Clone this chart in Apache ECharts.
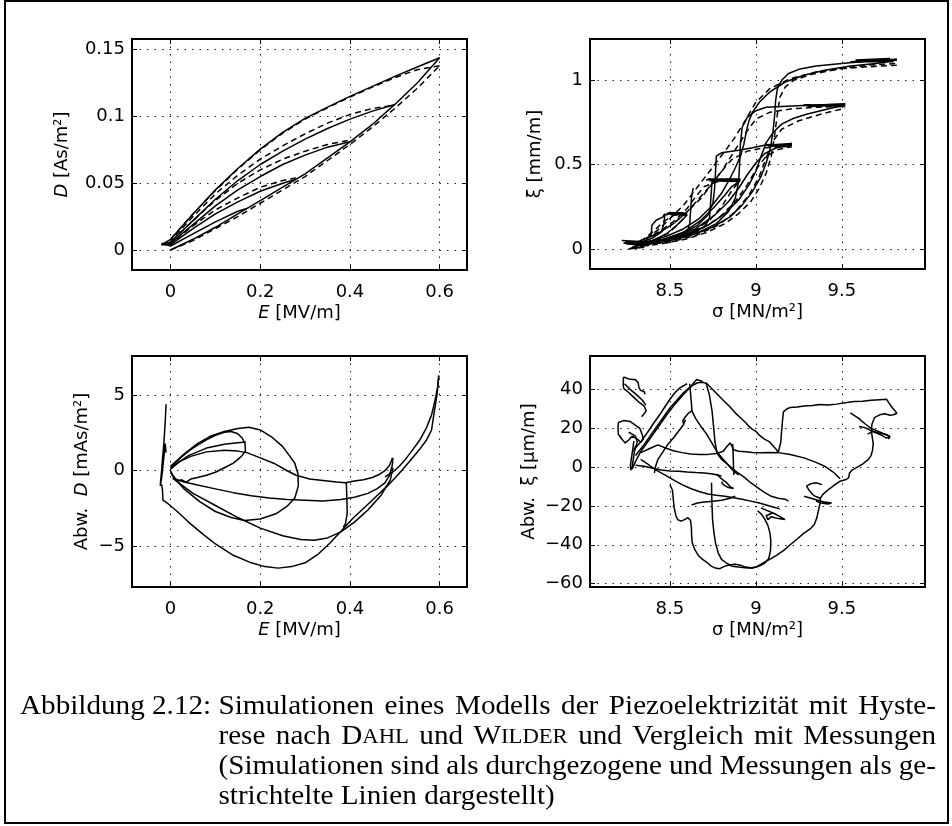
<!DOCTYPE html>
<html>
<head>
<meta charset="utf-8">
<script src="https://cdn.jsdelivr.net/npm/echarts@6/dist/echarts.min.js"></script>
<style>html,body{margin:0;padding:0;background:#fff}#c{width:952px;height:826px}</style>
</head>
<body>
<div id="c"></div>
<script>
// ---------- tick values ----------
const xTicksE = [0, 0.2, 0.4, 0.6];
const yTicksD = [0, 0.05, 0.1, 0.15];
const xTicksS = [8.5, 9, 9.5];
const yTicksXi = [0, 0.5, 1];
const yTicksDevD = [-5, 0, 5];
const yTicksDevXi = [-60, -40, -20, 0, 20, 40];

// ---------- Plot 1: D vs E (solid = simulation, dashed = measurement) ----------
const p1s_up = [[0,0],[0.05,0.008],[0.1,0.017],[0.15,0.027],[0.2,0.037],[0.25,0.047],[0.3,0.057],[0.35,0.069],[0.4,0.081],[0.45,0.094],[0.5,0.109],[0.55,0.125],[0.6,0.144]];
const p1s_d06 = [[0.6,0.144],[0.55,0.137],[0.5,0.13],[0.45,0.1225],[0.4,0.115],[0.35,0.107],[0.3,0.0985],[0.25,0.088],[0.2,0.0755],[0.15,0.061],[0.1,0.045],[0.05,0.027],[0,0.008],[-0.02,0.004]];
const p1s_d05 = [[0.5,0.109],[0.45,0.104],[0.4,0.098],[0.35,0.091],[0.3,0.083],[0.25,0.074],[0.2,0.064],[0.15,0.052],[0.1,0.038],[0.05,0.022],[0,0.006],[-0.02,0.004]];
const p1s_d04 = [[0.4,0.081],[0.35,0.077],[0.3,0.071],[0.25,0.064],[0.2,0.055],[0.15,0.045],[0.1,0.033],[0.05,0.019],[0,0.005],[-0.02,0.004]];
const p1s_d03 = [[0.28,0.053],[0.25,0.05],[0.2,0.044],[0.15,0.036],[0.1,0.027],[0.05,0.016],[0,0.004],[-0.02,0.004]];
const p1s_d02 = [[0.17,0.031],[0.15,0.029],[0.1,0.021],[0.05,0.012],[0,0.003],[-0.02,0.005]];
const p1m_up = [[0,0],[0.05,0.007],[0.1,0.016],[0.15,0.025],[0.2,0.035],[0.25,0.045],[0.3,0.055],[0.35,0.067],[0.4,0.079],[0.45,0.092],[0.5,0.106],[0.55,0.121],[0.6,0.138]];
const p1m_d06 = [[0.6,0.138],[0.55,0.135],[0.5,0.129],[0.45,0.122],[0.4,0.1145],[0.35,0.1065],[0.3,0.098],[0.25,0.0875],[0.2,0.075],[0.15,0.0605],[0.1,0.0445],[0.05,0.027],[0,0.008]];
const p1m_d05 = [[0.49,0.108],[0.45,0.106],[0.4,0.1015],[0.35,0.095],[0.3,0.087],[0.25,0.078],[0.2,0.068],[0.15,0.056],[0.1,0.042],[0.05,0.025],[0,0.007]];
const p1m_d04 = [[0.395,0.082],[0.35,0.079],[0.3,0.074],[0.25,0.068],[0.2,0.06],[0.15,0.05],[0.1,0.037],[0.05,0.022],[0,0.006]];
const p1m_d03 = [[0.28,0.054],[0.25,0.052],[0.2,0.047],[0.15,0.039],[0.1,0.03],[0.05,0.018],[0,0.005]];

// ---------- Plot 2: xi vs sigma ----------
const p2s_asc1 = [[8.25,0.03],[8.35,0.03],[8.45,0.04],[8.55,0.06],[8.65,0.09],[8.75,0.13],[8.85,0.19],[8.92,0.26],[8.98,0.34],[9.03,0.43],[9.06,0.51],[9.085,0.6],[9.1,0.7],[9.11,0.8],[9.115,0.88],[9.125,0.95],[9.15,1.0],[9.19,1.04],[9.25,1.065],[9.35,1.085],[9.5,1.1],[9.65,1.115],[9.82,1.12]];
const p2s_top1 = [[9.55,1.11],[9.82,1.125],[9.6,1.115],[9.8,1.11],[9.58,1.12],[9.78,1.13],[9.56,1.105],[9.8,1.12]];
const p2s_desc1 = [[9.82,1.12],[9.7,1.1],[9.55,1.085],[9.4,1.06],[9.28,1.03],[9.17,0.99],[9.08,0.93],[9.02,0.87],[8.98,0.81],[8.96,0.76],[8.945,0.7],[8.93,0.62],[8.91,0.55],[8.88,0.48],[8.84,0.4],[8.8,0.33],[8.74,0.25],[8.67,0.18],[8.58,0.12],[8.48,0.075],[8.38,0.045],[8.28,0.03]];
const p2s_asc2 = [[8.28,0.03],[8.45,0.05],[8.6,0.09],[8.72,0.14],[8.82,0.21],[8.9,0.29],[8.96,0.38],[9.0,0.46],[9.03,0.55],[9.06,0.63],[9.1,0.69],[9.15,0.74],[9.22,0.775],[9.3,0.8],[9.4,0.825],[9.52,0.855]];
const p2s_top2 = [[9.27,0.85],[9.52,0.86],[9.3,0.845],[9.5,0.85],[9.28,0.855],[9.52,0.845]];
const p2s_desc2 = [[9.52,0.86],[9.4,0.855],[9.27,0.85],[9.15,0.845],[9.06,0.84],[9.0,0.82],[8.95,0.78],[8.92,0.72],[8.91,0.62],[8.905,0.5],[8.9,0.4],[8.88,0.3],[8.84,0.22],[8.77,0.15],[8.67,0.1],[8.55,0.065],[8.42,0.045],[8.3,0.03]];
const p2s_asc3 = [[8.3,0.03],[8.5,0.06],[8.65,0.12],[8.76,0.2],[8.84,0.28],[8.9,0.36],[8.95,0.44],[9.0,0.51],[9.05,0.565],[9.12,0.6],[9.21,0.615]];
const p2s_top3 = [[9.05,0.615],[9.21,0.625],[9.07,0.61],[9.2,0.615],[9.05,0.62],[9.21,0.605]];
const p2s_desc3 = [[9.21,0.62],[9.05,0.615],[8.98,0.6],[8.9,0.585],[8.8,0.57],[8.77,0.55],[8.765,0.45],[8.76,0.36],[8.75,0.27],[8.72,0.2],[8.66,0.14],[8.57,0.09],[8.45,0.055],[8.3,0.03]];
const p2s_asc4 = [[8.3,0.03],[8.45,0.05],[8.58,0.1],[8.68,0.17],[8.76,0.25],[8.82,0.32],[8.86,0.37],[8.91,0.405]];
const p2s_top4 = [[8.71,0.41],[8.91,0.41],[8.73,0.405],[8.9,0.4],[8.72,0.415],[8.91,0.415]];
const p2s_desc4 = [[8.91,0.41],[8.8,0.41],[8.745,0.4],[8.74,0.33],[8.735,0.25],[8.73,0.18],[8.7,0.13],[8.62,0.09],[8.5,0.06],[8.38,0.04],[8.3,0.03]];
const p2s_asc5 = [[8.3,0.03],[8.4,0.05],[8.48,0.09],[8.54,0.14],[8.58,0.18],[8.6,0.205]];
const p2s_top5 = [[8.48,0.21],[8.6,0.21],[8.5,0.205],[8.6,0.2],[8.49,0.215],[8.58,0.215]];
const p2s_desc5 = [[8.6,0.21],[8.5,0.21],[8.47,0.2],[8.465,0.15],[8.45,0.1],[8.4,0.065],[8.33,0.04]];
const p2s_box = [[8.39,0.07],[8.395,0.14],[8.42,0.17],[8.46,0.19],[8.47,0.21]];
const p2s_vert = [[8.635,0.36],[8.625,0.3],[8.62,0.22],[8.615,0.15],[8.6,0.1],[8.55,0.07]];
const p2s_base = [[8.22,0.05],[8.4,0.04],[8.25,0.03],[8.38,0.02],[8.24,0.045],[8.35,0.01],[8.26,0.0],[8.32,0.02],[8.23,0.035],[8.42,0.035]];
const p2m_asc1 = [[8.28,0.01],[8.45,0.03],[8.6,0.06],[8.72,0.1],[8.82,0.15],[8.9,0.21],[8.97,0.28],[9.02,0.36],[9.06,0.45],[9.09,0.55],[9.11,0.68],[9.125,0.8],[9.14,0.9],[9.17,0.96],[9.22,1.0],[9.32,1.035],[9.5,1.07],[9.65,1.09],[9.82,1.1]];
const p2m_desc1 = [[9.82,1.09],[9.65,1.08],[9.5,1.07],[9.35,1.05],[9.2,1.01],[9.08,0.95],[9.0,0.87],[8.96,0.8],[8.92,0.73],[8.87,0.65],[8.82,0.58],[8.76,0.5],[8.7,0.42],[8.64,0.34],[8.58,0.26],[8.51,0.19],[8.44,0.12],[8.36,0.06],[8.28,0.03]];
const p2m_asc2 = [[8.3,0.02],[8.5,0.04],[8.65,0.08],[8.78,0.14],[8.88,0.22],[8.96,0.32],[9.02,0.43],[9.06,0.54],[9.1,0.64],[9.15,0.71],[9.25,0.76],[9.38,0.8],[9.52,0.835]];
const p2m_desc2 = [[9.5,0.845],[9.35,0.84],[9.2,0.83],[9.08,0.81],[9.0,0.77],[8.95,0.7],[8.9,0.62],[8.85,0.54],[8.8,0.46],[8.74,0.38],[8.67,0.3],[8.6,0.22],[8.52,0.15],[8.43,0.09],[8.33,0.05]];
const p2m_asc3 = [[8.3,0.02],[8.5,0.05],[8.65,0.1],[8.78,0.18],[8.88,0.28],[8.95,0.38],[9.0,0.47],[9.06,0.55],[9.13,0.59],[9.2,0.605]];
const p2m_desc3 = [[9.2,0.61],[9.05,0.6],[8.95,0.58],[8.86,0.53],[8.8,0.46],[8.74,0.38],[8.68,0.3],[8.6,0.22],[8.52,0.15],[8.43,0.09],[8.33,0.05]];
const p2m_asc4 = [[8.3,0.02],[8.5,0.05],[8.63,0.1],[8.73,0.17],[8.8,0.25],[8.85,0.33],[8.9,0.4]];
const p2m_desc4 = [[8.9,0.405],[8.78,0.4],[8.7,0.37],[8.65,0.31],[8.6,0.24],[8.53,0.17],[8.45,0.11],[8.36,0.06]];
const p2m_asc5 = [[8.3,0.02],[8.42,0.05],[8.5,0.1],[8.56,0.16],[8.6,0.2]];
const p2m_desc5 = [[8.6,0.205],[8.52,0.2],[8.46,0.16],[8.41,0.11],[8.35,0.06]];

// ---------- Plot 3: deviation of D vs E ----------
const p3_spike = [[-0.010,4.4],[-0.012,3.2],[-0.015,1.8],[-0.018,0.8],[-0.02,0.0],[-0.022,-0.6],[-0.023,-1.0],[-0.02,-0.5],[-0.016,0.6],[-0.012,1.8],[-0.01,1.2]];
const p3_loopA = [[0.0,0.2],[0.02,0.8],[0.04,1.3],[0.06,1.7],[0.08,2.05],[0.1,2.35],[0.12,2.55],[0.135,2.6],[0.15,2.45],[0.16,2.15],[0.166,1.8],[0.167,1.3],[0.158,0.95],[0.14,0.5],[0.12,0.2],[0.1,-0.1],[0.08,-0.3],[0.06,-0.45],[0.045,-0.55],[0.035,-0.75],[0.025,-0.6],[0.015,-0.7],[0.005,-0.3],[0.0,0.0]];
const p3_loopB = [[0.0,0.3],[0.03,1.1],[0.06,1.8],[0.09,2.3],[0.12,2.6],[0.15,2.8],[0.175,2.88],[0.2,2.7],[0.225,2.25],[0.25,1.6],[0.265,1.0],[0.277,0.5],[0.284,-0.2],[0.285,-1.0],[0.277,-1.8],[0.26,-2.35],[0.235,-2.85],[0.2,-3.2],[0.165,-3.3],[0.135,-3.1],[0.1,-2.7],[0.065,-2.05],[0.03,-1.2],[0.008,-0.5],[0.0,-0.1]];
const p3_mid = [[0.0,0.1],[0.02,0.6],[0.045,0.95],[0.08,1.25],[0.12,1.35],[0.15,1.3],[0.17,1.2],[0.2,0.85],[0.23,0.5],[0.26,0.0],[0.28,-0.3],[0.31,-0.55],[0.34,-0.65],[0.37,-0.75],[0.39,-0.8],[0.41,-0.68],[0.43,-0.6],[0.45,-0.45],[0.465,-0.25],[0.478,0.0],[0.488,0.35],[0.495,0.85]];
const p3_mid2 = [[0.0,0.2],[0.04,1.0],[0.08,1.5],[0.12,1.75],[0.15,1.85],[0.168,1.9]];
const p3_low = [[0.496,0.85],[0.494,0.3],[0.488,-0.3],[0.478,-0.8],[0.46,-1.2],[0.44,-1.5],[0.41,-1.75],[0.38,-1.9],[0.34,-2.0],[0.3,-1.95],[0.26,-1.9],[0.22,-1.8],[0.18,-1.65],[0.14,-1.45],[0.1,-1.2],[0.06,-0.95],[0.03,-0.75],[0.005,-0.5]];
const p3_v04 = [[0.392,-0.8],[0.393,-1.8],[0.394,-2.8],[0.39,-3.5],[0.385,-3.75]];
const p3_arc05 = [[0.005,-0.5],[0.05,-1.5],[0.1,-2.3],[0.15,-3.1],[0.2,-3.8],[0.25,-4.3],[0.29,-4.55],[0.32,-4.6],[0.35,-4.45],[0.38,-4.05],[0.41,-3.4],[0.44,-2.6],[0.47,-1.6],[0.49,-0.6],[0.496,0.2]];
const p3_asc06 = [[0.478,-0.4],[0.495,-0.1],[0.51,0.3],[0.525,0.8],[0.54,1.4],[0.555,2.0],[0.57,2.8],[0.582,3.7],[0.59,4.7],[0.596,5.6],[0.598,6.3]];
const p3_desc06 = [[0.598,6.3],[0.594,5.0],[0.588,3.9],[0.582,2.7],[0.57,2.0],[0.555,1.4],[0.535,0.7],[0.515,0.0],[0.5,-0.5],[0.48,-1.1],[0.455,-1.8],[0.43,-2.5],[0.405,-3.2],[0.38,-4.0],[0.355,-4.8],[0.33,-5.5],[0.3,-6.1],[0.27,-6.35],[0.24,-6.45],[0.21,-6.35],[0.18,-6.1],[0.14,-5.6],[0.1,-4.85],[0.07,-4.15],[0.04,-3.4],[0.015,-2.7],[-0.005,-2.2],[-0.017,-1.95],[-0.018,-1.3],[-0.02,-0.9]];

// ---------- Plot 4: deviation of xi vs sigma ----------
const p4_a1 = [[8.23,46.5],[8.26,45.5],[8.3,45.0],[8.315,43.5],[8.32,41],[8.33,39.5],[8.35,39.0],[8.36,38.3],[8.355,37.6]];
const p4_a2 = [[8.23,46.5],[8.228,42],[8.232,40.5],[8.26,38.5],[8.29,36],[8.32,33.5],[8.35,31.5],[8.362,29],[8.35,27.5],[8.335,26]];
const p4_a3 = [[8.235,43],[8.27,40],[8.31,37],[8.34,34.5],[8.36,32]];
const p4_b1 = [[8.2,23],[8.23,24],[8.27,23.5],[8.3,21.5],[8.325,20],[8.34,16.5],[8.345,14.5],[8.33,12.8],[8.31,14.5],[8.28,16],[8.26,14],[8.24,12.5],[8.22,14.5],[8.2,17],[8.198,20],[8.2,23]];
const p4_b2 = [[8.29,13.5],[8.285,10],[8.28,7],[8.275,4],[8.27,1],[8.272,-1.5],[8.28,0],[8.285,3],[8.29,6],[8.295,9],[8.3,11]];
const p4_b3 = [[8.26,18],[8.28,17],[8.3,16],[8.31,13],[8.3,10],[8.29,8]];
const p4_c1 = [[8.28,-1],[8.3,3],[8.33,8],[8.37,13],[8.41,18],[8.45,23],[8.49,28],[8.53,32.5],[8.57,36.5],[8.6,39.5],[8.63,42],[8.66,43.5],[8.69,43.8],[8.71,43.2]];
const p4_c2 = [[8.3,6],[8.34,10.5],[8.38,15.5],[8.42,20.5],[8.46,25.5],[8.5,30.5],[8.54,34.5],[8.58,38.5],[8.62,41.5],[8.655,45.2],[8.69,44.2]];
const p4_c3 = [[8.29,9],[8.33,13],[8.37,18],[8.4,22],[8.44,27],[8.47,31],[8.5,35],[8.53,38.5],[8.56,41],[8.6,43]];
const p4_d1 = [[8.71,43.5],[8.73,37],[8.745,29],[8.755,20],[8.762,13],[8.775,7],[8.8,4],[8.83,2],[8.86,-0.5],[8.89,-2.5],[8.93,-5],[8.97,-8],[9.01,-10.5],[9.05,-13],[9.09,-15],[9.13,-16],[9.17,-16.5],[9.19,-17.5]];
const p4_d2 = [[8.71,43.5],[8.76,39],[8.81,34.5],[8.85,31],[8.88,28],[8.91,25.5],[8.94,23],[8.96,21],[8.98,19.5],[9.0,18.5],[9.02,16.5],[9.05,14.5],[9.08,13],[9.1,11],[9.12,9],[9.13,7.5]];
const p4_d3 = [[8.615,43],[8.62,38],[8.625,33],[8.628,29],[8.61,28],[8.59,26],[8.575,24],[8.58,22],[8.59,24.5]];
const p4_d4 = [[8.628,29],[8.65,25],[8.68,21],[8.71,17.5],[8.74,13],[8.77,8.5],[8.8,5],[8.84,1],[8.87,-2],[8.9,-4]];
const p4_e1 = [[8.33,7.5],[8.38,9.5],[8.43,11.5],[8.47,10],[8.52,8.5],[8.57,7.5],[8.62,6.8],[8.67,6.5],[8.72,6.6],[8.77,7],[8.81,8.2],[8.83,10.5],[8.85,12.5],[8.86,11],[8.87,9],[8.9,8.2],[8.94,8],[8.98,7.6],[9.03,7.4],[9.08,7.6],[9.13,7.4]];
const p4_e2 = [[8.865,12],[8.868,6],[8.87,0],[8.872,-4]];
const p4_e3 = [[9.13,7.5],[9.2,6.5],[9.28,4.8],[9.35,2.5],[9.4,0.5],[9.45,-2.5],[9.49,-6]];
const p4_f1 = [[9.13,7.5],[9.145,13],[9.15,19],[9.155,24],[9.16,28.5],[9.18,30],[9.2,30.8],[9.24,31],[9.28,31.5],[9.33,31.8],[9.37,32.3],[9.42,32],[9.47,32.5],[9.52,33.2],[9.57,33.8],[9.62,34],[9.67,34.5],[9.72,34.8],[9.76,35],[9.775,33],[9.79,31],[9.81,29],[9.82,27.8],[9.8,27],[9.78,26.8],[9.75,27.5],[9.72,27],[9.69,25.5],[9.675,22],[9.672,18.5],[9.678,15],[9.683,12],[9.678,8.5],[9.67,6],[9.655,4],[9.64,3],[9.62,1.5],[9.6,0.5],[9.58,-0.5],[9.56,-1.5],[9.545,-3],[9.54,-5.5],[9.52,-6.5],[9.49,-7.2],[9.46,-9],[9.43,-11],[9.41,-12.5],[9.39,-14],[9.375,-16],[9.36,-15.5],[9.34,-14.8],[9.31,-12],[9.295,-9.8],[9.32,-8.5],[9.35,-8],[9.385,-9]];
const p4_f2 = [[9.55,28],[9.6,25],[9.64,22],[9.67,20],[9.71,18.5],[9.75,17],[9.78,16],[9.76,15],[9.73,16.5],[9.69,18],[9.63,20.5],[9.6,21]];
const p4_f3 = [[9.65,17],[9.68,18.5],[9.72,17.5],[9.76,16.8],[9.78,15.5],[9.77,14.5]];
const p4_g1 = [[8.5,-9],[8.515,-12],[8.52,-17],[8.525,-21],[8.535,-25],[8.545,-27],[8.565,-27.8],[8.585,-27],[8.605,-26],[8.62,-27.5],[8.625,-31],[8.626,-35],[8.63,-39],[8.645,-42.5],[8.665,-45.5],[8.69,-47.5],[8.715,-49],[8.74,-51],[8.765,-52],[8.79,-52.3],[8.82,-51],[8.85,-50.3],[8.88,-50],[8.91,-50.5],[8.94,-51.5],[8.98,-52],[9.02,-51],[9.05,-49.5],[9.075,-47],[9.085,-43],[9.087,-38],[9.082,-34],[9.07,-30],[9.05,-26.5],[9.03,-24],[9.01,-22.5]];
const p4_g2 = [[8.742,-8],[8.743,-14],[8.745,-20],[8.748,-27],[8.755,-33],[8.765,-39],[8.78,-44],[8.8,-47.5],[8.83,-49.5],[8.86,-51],[8.9,-51.5],[8.95,-52],[8.98,-52]];
const p4_g3 = [[8.33,4],[8.38,1],[8.42,-1.5],[8.47,-4],[8.52,-6.5],[8.57,-9],[8.62,-11],[8.67,-12.5],[8.72,-13.8],[8.77,-14.5],[8.82,-15],[8.87,-15.8],[8.92,-16.5],[8.97,-17.5],[9.02,-18.5],[9.06,-19.5],[9.1,-20.5],[9.14,-21.5]];
const p4_g4 = [[8.626,-19.5],[8.66,-18.5],[8.7,-18],[8.75,-17.5],[8.8,-17],[8.85,-16],[8.88,-15]];
const p4_g5 = [[9.375,-16],[9.372,-19],[9.365,-22],[9.355,-26],[9.34,-29.5],[9.32,-31.5],[9.28,-34],[9.24,-37],[9.2,-40],[9.16,-43],[9.12,-45.5],[9.08,-47.5],[9.04,-49.5],[9.0,-51.5],[8.97,-52]];
const p4_g6 = [[9.03,-21],[9.07,-22.5],[9.11,-24],[9.15,-26],[9.17,-27],[9.13,-26.5],[9.09,-25.5],[9.07,-27],[9.06,-25],[9.1,-23.5]];
const p4_g7 = [[9.28,-15],[9.32,-16],[9.36,-17],[9.4,-18],[9.44,-18.5],[9.45,-19.5],[9.42,-19],[9.38,-18.5],[9.35,-17.5]];
const p4_g8 = [[8.77,-3.5],[8.8,-6],[8.83,-8],[8.85,-10],[8.87,-11],[8.84,-10.5],[8.81,-9],[8.8,-7.5]];
const p4_h1 = [[8.3,1],[8.35,0.5],[8.4,-0.5],[8.45,-1.5],[8.5,-2],[8.55,-2.1],[8.6,-2.5],[8.65,-2.8],[8.7,-3],[8.75,-3.5],[8.8,-4.5]];
const p4_i1 = [[8.58,22],[8.55,18.5],[8.52,15],[8.49,12],[8.46,8],[8.43,4],[8.415,0],[8.41,-3]];

// ---------- series grouping ----------
const plotSolid = [
  [p1s_up, p1s_d06, p1s_d05, p1s_d04, p1s_d03, p1s_d02],
  [p2s_asc1, p2s_top1, p2s_desc1, p2s_asc2, p2s_top2, p2s_desc2, p2s_asc3, p2s_top3, p2s_desc3, p2s_asc4, p2s_top4, p2s_desc4, p2s_asc5, p2s_top5, p2s_desc5, p2s_box, p2s_vert, p2s_base],
  [p3_spike, p3_loopA, p3_loopB, p3_mid, p3_mid2, p3_low, p3_v04, p3_arc05, p3_asc06, p3_desc06],
  [p4_a1, p4_a2, p4_a3, p4_b1, p4_b2, p4_b3, p4_c1, p4_c2, p4_c3, p4_d1, p4_d2, p4_d3, p4_d4, p4_e1, p4_e2, p4_e3, p4_f1, p4_f2, p4_f3, p4_g1, p4_g2, p4_g3, p4_g4, p4_g5, p4_g6, p4_g7, p4_g8, p4_h1, p4_i1]
];
const plotDashed = [
  [p1m_up, p1m_d06, p1m_d05, p1m_d04, p1m_d03],
  [p2m_asc1, p2m_desc1, p2m_asc2, p2m_desc2, p2m_asc3, p2m_desc3, p2m_asc4, p2m_desc4, p2m_asc5, p2m_desc5],
  [], []
];

// ---------- layout ----------
const FONT = 'DejaVu Sans';
const FS = 18;
const gridsPos = [
  {left:132, top:39, width:335, height:231},
  {left:590, top:39, width:335, height:230},
  {left:132, top:356, width:335, height:231},
  {left:590, top:356, width:335, height:231}
];
const ranges = [
  {x:[-0.086,0.661], y:[-0.015,0.158], xt:xTicksE, yt:yTicksD},
  {x:[8.035,9.984], y:[-0.119,1.245], xt:xTicksS, yt:yTicksXi},
  {x:[-0.086,0.661], y:[-7.7,7.6], xt:xTicksE, yt:yTicksDevD},
  {x:[8.035,9.984], y:[-61.75,57.3], xt:xTicksS, yt:yTicksDevXi}
];
const names = [
  {x:'{i|E} [MV/m]', y:'{i|D} [As/m²]', xg:34, yg:61},
  {x:'σ [MN/m²]', y:'ξ [mm/m]', xg:34, yg:46},
  {x:'{i|E} [MV/m]', y:'Abw.  {i|D} [mAs/m²]', xg:34, yg:41},
  {x:'σ [MN/m²]', y:'Abw.  ξ [µm/m]', xg:34, yg:52}
];
const fmt = v => (v < 0 ? '\u2212' + String(-v) : String(v));
const nameStyle = {fontFamily:FONT, fontSize:FS, color:'#000', rich:{i:{fontFamily:FONT, fontSize:FS, fontStyle:'italic', color:'#000'}}};
const tick = vals => ({show:true, inside:true, length:5, customValues:vals, lineStyle:{color:'#000', width:1}});
const grid = gridsPos.map(g => Object.assign({show:true, borderColor:'#000', borderWidth:2, backgroundColor:'#fff'}, g));
const xAxis = [], yAxis = [];
ranges.forEach((r, i) => {
  xAxis.push({type:'value', gridIndex:i, position:'bottom', min:r.x[0], max:r.x[1],
    axisLine:{show:false, onZero:false}, axisTick:tick(r.xt),
    axisLabel:{customValues:r.xt, formatter:fmt, fontFamily:FONT, fontSize:FS, color:'#000', margin:13},
    splitLine:{show:true, lineStyle:{color:'#222', width:1, type:[1.5,6]}},
    name:names[i].x, nameLocation:'middle', nameGap:names[i].xg, nameTextStyle:nameStyle});
  yAxis.push({type:'value', gridIndex:i, position:'left', min:r.y[0], max:r.y[1],
    axisLine:{show:false, onZero:false}, axisTick:tick(r.yt),
    axisLabel:{customValues:r.yt, formatter:fmt, fontFamily:FONT, fontSize:FS, color:'#000', margin:7},
    splitLine:{show:true, lineStyle:{color:'#222', width:1, type:[1.5,6]}},
    name:names[i].y, nameLocation:'middle', nameGap:names[i].yg, nameTextStyle:nameStyle});
});
ranges.forEach((r, i) => {
  xAxis.push({type:'value', gridIndex:i, position:'top', min:r.x[0], max:r.x[1],
    axisLine:{show:false, onZero:false}, axisTick:tick(r.xt), axisLabel:{show:false}, splitLine:{show:false}});
  yAxis.push({type:'value', gridIndex:i, position:'right', min:r.y[0], max:r.y[1],
    axisLine:{show:false, onZero:false}, axisTick:tick(r.yt), axisLabel:{show:false}, splitLine:{show:false}});
});
const series = [];
const mk = (data, i, dashed) => ({type:'line', data, xAxisIndex:i, yAxisIndex:i, showSymbol:false, symbol:'none',
  silent:true, animation:false, z: dashed ? 4 : 3,
  lineStyle:{color:'#000', width:1.5, type: dashed ? [6,4] : 'solid'}});
plotSolid.forEach((arr, i) => arr.forEach(d => series.push(mk(d, i, false))));
plotDashed.forEach((arr, i) => arr.forEach(d => series.push(mk(d, i, true))));

// ---------- caption (justified, small caps) ----------
const captionLabel = 'Abbildung 2.12:';
const captionLines = [
  [['Simulationen'],['eines'],['Modells'],['der'],['Piezoelektrizität'],['mit'],['Hyste-']],
  [['rese'],['nach'],['D','AHL'],['und'],['W','ILDER'],['und'],['Vergleich'],['mit'],['Messungen']],
  [['(Simulationen'],['sind'],['als'],['durchgezogene'],['und'],['Messungen'],['als'],['ge-']],
  [['strichtelte'],['Linien'],['dargestellt)']]
];
function buildCaption() {
  const size = 27, small = Math.round(size * 0.78), sx = 1.08, fam = 'Liberation Serif';
  const ctx = document.createElement('canvas').getContext('2d');
  const mw = (t, s) => { ctx.font = s + 'px "' + fam + '"'; return ctx.measureText(t).width * sx; };
  const baselines = [716, 746, 776, 806];
  const xl = 20, x1 = 936;
  const x0 = xl + mw(captionLabel, size) + mw(' ', size);
  const els = [];
  const txt = (t, x, base, s) => ({type:'text', x:x, y:base - size * 0.33, scaleX:sx, silent:true,
    style:{text:t, fontFamily:fam, fontSize:s, fill:'#000', align:'left', verticalAlign:'middle'}});
  els.push(txt(captionLabel, xl, baselines[0], size));
  captionLines.forEach((words, li) => {
    const widths = words.map(w => w.reduce((a, seg, k) => a + mw(seg, k === 0 ? size : small), 0));
    const total = widths.reduce((a, b) => a + b, 0);
    const justify = li < captionLines.length - 1;
    const gap = justify ? (x1 - x0 - total) / (words.length - 1) : mw(' ', size);
    let x = x0;
    words.forEach((w, wi) => {
      let xx = x;
      w.forEach((seg, k) => {
        const s = k === 0 ? size : small;
        els.push(txt(seg, xx, baselines[li], s));
        xx += mw(seg, s);
      });
      x += widths[wi] + gap;
    });
  });
  els.push({type:'rect', silent:true, shape:{x:5, y:1, width:943, height:822},
    style:{fill:'transparent', stroke:'#000', lineWidth:2}});
  return els;
}

const chart = echarts.init(document.getElementById('c'), null, {renderer:'canvas'});
chart.setOption({
  animation:false,
  backgroundColor:'#fff',
  grid, xAxis, yAxis, series,
  graphic: buildCaption()
});
</script>
</body>
</html>
